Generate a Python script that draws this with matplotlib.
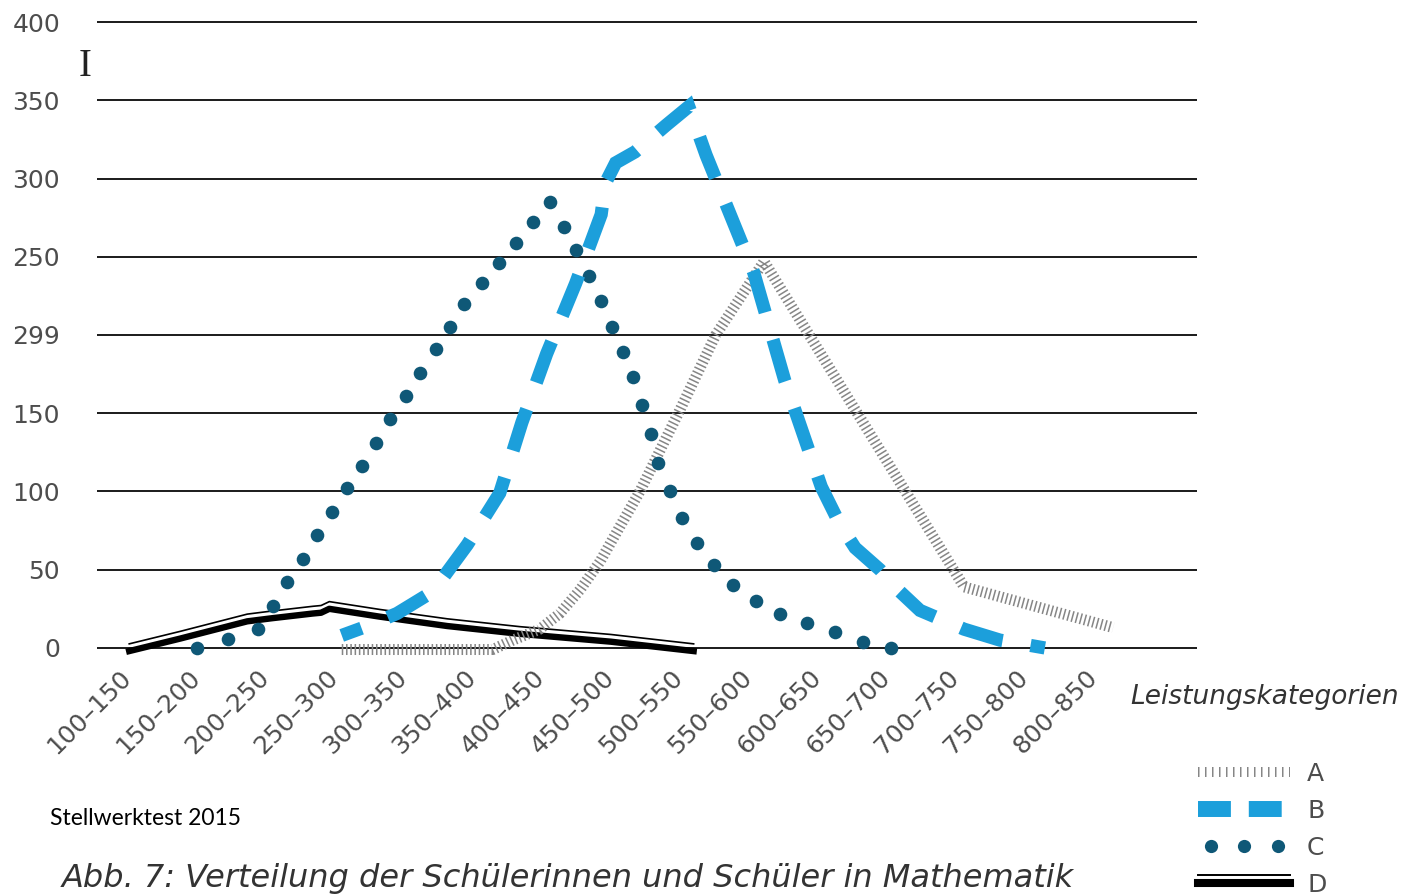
import matplotlib
matplotlib.use("Agg")
import matplotlib.pyplot as plt
import matplotlib.patheffects as pe
import matplotlib.transforms as mtransforms
from matplotlib.lines import Line2D
from matplotlib.legend_handler import HandlerLine2D

# categories on the x axis (positions 0..14)
categories = ["100–150", "150–200", "200–250", "250–300", "300–350", "350–400",
              "400–450", "450–500", "500–550", "550–600", "600–650", "650–700",
              "700–750", "750–800", "800–850"]
y_ticks = [0, 50, 100, 150, 200, 250, 300, 350, 400]
y_tick_labels = ["0", "50", "100", "150", "299", "250", "300", "350", "400"]

# series, x in category units
a_x = [3.04, 5.23, 5.52, 5.91, 6.20, 6.49, 6.78, 7.36, 7.94, 8.46, 9.16, 12.06, 14.22]
a_y = [-1, -1, 5, 12, 22, 37, 55, 100, 152, 200, 247, 39, 13]

b_x = [3.04, 3.35, 3.84, 4.36, 4.86, 5.33, 5.65, 6.01, 6.43, 6.80, 6.86, 7.01, 7.29,
       7.74, 8.07, 8.32, 9.01, 9.46, 9.99, 10.26, 10.48, 10.84, 11.13, 11.42, 12.06,
       12.58, 13.23]
b_y = [8, 13, 22, 36, 66, 99, 144, 188, 233, 277, 297, 310, 317, 334, 346, 315, 240,
       171, 103, 79, 64, 50, 36, 24, 12, 5, 0]

c_x = [0.94, 1.39, 1.83, 2.04, 2.25, 2.48, 2.68, 2.90, 3.12, 3.33, 3.54, 3.74, 3.97,
       4.17, 4.41, 4.61, 4.81, 5.07, 5.32, 5.57, 5.81, 6.06, 6.26, 6.43, 6.62, 6.80,
       6.96, 7.12, 7.26, 7.39, 7.52, 7.62, 7.80, 7.97, 8.19, 8.43, 8.71, 9.04, 9.39,
       9.78, 10.19, 10.59, 11.00]
c_y = [0, 6, 12, 27, 42, 57, 72, 87, 102, 116, 131, 146, 161, 176, 191, 205, 220,
       233, 246, 259, 272, 285, 269, 254, 238, 222, 205, 189, 173, 155, 137, 118,
       100, 83, 67, 53, 40, 30, 22, 16, 10, 4, 0]

d_x = [-0.04, 0.70, 1.67, 2.03, 2.62, 2.74, 2.86, 3.59, 4.57, 5.62, 6.94, 8.14]
d_y = [-2, 6, 17, 19, 22, 22.5, 25, 20, 14, 9, 4, -2]

series_names = ["A", "B", "C", "D"]

A_COLOR = "#868686"
B_COLOR = "#1c9fdb"
C_COLOR = "#0f5877"
TEXT = "#4d4d4d"

W, H = 1408, 896
fig = plt.figure(figsize=(W / 100, H / 100), dpi=100)
ax = fig.add_axes([97 / W, 232.4 / H, 1100 / W, 649.4 / H])
ax.set_xlim(-0.507, 15.435)
ax.set_ylim(-10, 405)

ax.set_yticks(y_ticks)
ax.set_yticklabels(y_tick_labels)
ax.set_xticks(range(len(categories)))
ax.set_xticklabels(categories, rotation=45, ha="right", va="top",
                   rotation_mode="anchor")
ax.tick_params(axis="y", length=0, pad=26.6, labelsize=18, labelcolor=TEXT)
ax.tick_params(axis="x", length=0, pad=1.5, labelsize=18, labelcolor=TEXT)
shift = mtransforms.ScaledTranslation(-0.13, 0, fig.dpi_scale_trans)
for lab in ax.get_xticklabels():
    lab.set_transform(lab.get_transform() + shift)
ax.grid(axis="y", color="#1a1a1a", lw=1.4)
ax.grid(axis="x", visible=False)
ax.set_axisbelow(True)
for s in ax.spines.values():
    s.set_visible(False)

# D: thick line with a thin line above it
d_fx = [pe.Stroke(offset=(0, 5.2), linewidth=1.2, foreground="black"), pe.Normal()]
ax.plot(d_x, d_y, color="black", lw=4.6, solid_joinstyle="round",
        path_effects=d_fx, zorder=2, clip_on=False)
# A: hatched band
ax.plot(a_x, a_y, color=A_COLOR, lw=7.9, ls=(0, (0.14, 0.25)),
        dash_capstyle="butt", zorder=3, clip_on=False)
# C: dots
ax.plot(c_x, c_y, ls="none", marker="o", ms=9.8, color=C_COLOR, mec="none",
        zorder=4, clip_on=False)
# B: long dashes
ax.plot(b_x, b_y, color=B_COLOR, lw=9.5, ls=(1.7, (3.3, 2.15)),
        dash_capstyle="butt", dash_joinstyle="miter", zorder=5, clip_on=False)

ax.set_xlabel("Leistungskategorien", fontsize=19, style="italic", color="#333333",
              ha="left", va="center")
ax.xaxis.set_label_coords((1130 - 97) / 1100, -0.0514)

# legend
leg_a = Line2D([], [], color=A_COLOR, lw=7.2, ls=(0, (0.15, 0.55)))
leg_b = Line2D([], [], color=B_COLOR, lw=11.5, ls=(0, (2.06, 1.12)))
leg_c = Line2D([], [], ls="none", marker="o", ms=9.5, color=C_COLOR, mec="none")
leg_d = Line2D([], [], color="black", lw=5.8,
               path_effects=[pe.Stroke(offset=(0, 6), linewidth=1.4,
                                       foreground="black"), pe.Normal()])
fig.legend([leg_a, leg_b, leg_c, leg_d], series_names, loc="upper left",
           bbox_to_anchor=(1198 / W, 1 - 762 / H), frameon=False, fontsize=18,
           labelcolor=TEXT, handlelength=3.68, handletextpad=0.68,
           labelspacing=0.52, borderpad=0, borderaxespad=0, numpoints=1,
           handler_map={leg_c: HandlerLine2D(numpoints=3, marker_pad=0.5)})

fig.text(50 / W, 1 - 818 / H, "Stellwerktest 2015", fontsize=16.5, family="Lato",
         color="black", va="center")
fig.text(62 / W, 1 - 887 / H, "Abb. 7: Verteilung der Schülerinnen und Schüler in Mathematik",
         fontsize=23, style="italic", color="#333333", va="baseline")
# text cursor left in the screenshot
fig.text(85 / W, 1 - 67 / H, "I", fontsize=28, family="Liberation Serif",
         color="#222222", ha="center", va="center")

fig.savefig("out.png", dpi=100)
